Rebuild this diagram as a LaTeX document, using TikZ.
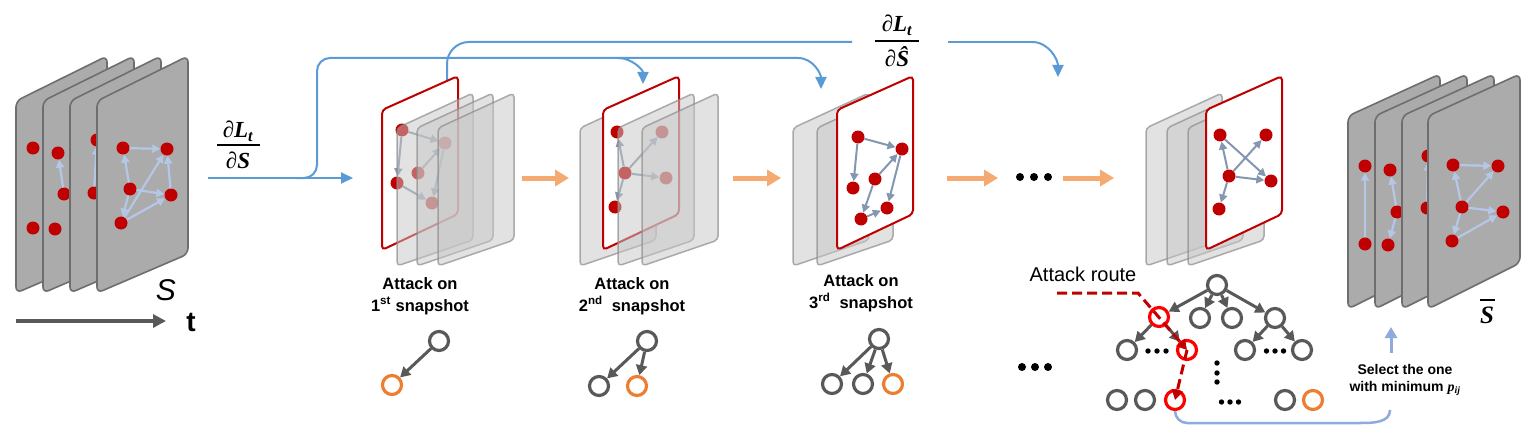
\documentclass[tikz,border=0pt]{standalone}
\usepackage{fontspec}
\setmainfont{Liberation Sans}
\newfontfamily\serifbi{Liberation Serif}
\usetikzlibrary{arrows.meta}

\definecolor{dotred}{HTML}{C00000}
\definecolor{cardgray}{HTML}{ABABAB}
\definecolor{carddraw}{HTML}{6E6E6E}
\definecolor{lblue}{HTML}{B4C7E7}
\definecolor{slate}{HTML}{8497B0}
\definecolor{flowblue}{HTML}{5B9BD5}
\definecolor{orangearr}{HTML}{F4AA70}
\definecolor{treegray}{HTML}{595959}
\definecolor{treeorange}{HTML}{ED7D31}
\definecolor{brightred}{HTML}{FF0000}
\definecolor{selblue}{HTML}{8FAADC}

\newcommand\mycard[7]{\path[#1] (#2,#7) -- (#2,#4) -- ({#2+#3},#5) -- ({#2+#3},#6) -- cycle;}
\newcommand\myScard[1]{\mycard{scard}{#1}{91}{101}{56}{254}{293}}
\newcommand\myBcard[1]{\mycard{scard}{#1}{92}{116}{74}{263}{309}}
\newcommand\myRcard[1]{\mycard{rcard}{#1}{76}{110}{76}{214}{250}}
\newcommand\myGcard[1]{\mycard{gcard}{#1}{76}{128}{93}{240}{266}}
\newcommand\myhdots[4]{\foreach \i in {-1,0,1} {\fill[black] ({#1+#3*\i},#2) circle (#4);}}

\tikzset{
  scard/.style={fill=cardgray, draw=carddraw, line width=1.6pt, rounded corners=6pt},
  rcard/.style={fill=white, draw=dotred, line width=2pt, rounded corners=4pt},
  gcard/.style={fill=black!22, fill opacity=0.5, draw=black!45, draw opacity=0.7, line width=1.5pt, rounded corners=4pt},
  rdot/.style={circle, fill=dotred, inner sep=0pt, minimum size=13pt},
  larr/.style={draw=lblue, line width=2.2pt, -{Triangle[length=8pt,width=8pt]}},
  sarr/.style={draw=slate, line width=2pt, -{Triangle[length=8pt,width=8pt]}},
  flowline/.style={draw=flowblue, line width=2pt},
  flow/.style={draw=flowblue, line width=2pt, -{Triangle[length=12pt,width=11pt]}},
  oarr/.style={draw=orangearr, line width=5pt, -{Triangle[length=14pt,width=16pt]}},
  lab/.style={font=\bfseries\fontsize{16.5}{22}\selectfont, align=center, inner sep=0pt},
  fnum/.style={font=\serifbi\bfseries\itshape\fontsize{23}{23}\selectfont, inner sep=0pt},
  fbar/.style={draw=black, line width=1.5pt},
  tn/.style={circle, draw=treegray, line width=3.2pt, minimum size=19pt, inner sep=0pt},
  tno/.style={tn, draw=treeorange},
  tnr/.style={tn, draw=brightred},
  tarr/.style={draw=treegray, line width=3pt, -{Triangle[length=10pt,width=11pt]}},
  route/.style={draw=dotred, line width=3pt, dash pattern=on 10pt off 5pt, -{Triangle[length=10pt,width=11pt]}},
  selline/.style={draw=selblue, line width=2.5pt},
  selarr/.style={draw=selblue, line width=3pt, -{Triangle[length=11pt,width=12pt]}},
}

\begin{document}
\begin{tikzpicture}[x=1pt,y=-1pt]
\useasboundingbox[fill=white] (0,0) rectangle (1538,433);

% ---------------- blue gradient flows (drawn first) ----------------
\coordinate (fa) at (208,178);
\coordinate (fb) at (353,178);
\coordinate (br0) at (296,178);
\coordinate (brc) at (317,58);
\coordinate (br1) at (798,58);
\coordinate (br2) at (618,58);
\coordinate (tip2) at (643,84);
\coordinate (tip3) at (821,89);
\coordinate (up0) at (447,82);
\coordinate (gapl) at (852,42);
\coordinate (gapr) at (948,42);
\coordinate (up1) at (1032,42);
\coordinate (tip4) at (1058,77);
\draw[flow] (fa) -- (fb);
\draw[flowline, rounded corners=13pt] (br0) -| (brc) -- (br1);
\draw[flow] (br1) to[out=0,in=90] (tip3);
\draw[flow] (br2) to[out=0,in=90] (tip2);
\draw[flowline, rounded corners=22pt] (up0) |- (gapl);
\draw[flowline] (gapr) -- (up1);
\draw[flow] (up1) to[out=0,in=90] (tip4);

% fraction dL/dS
\node[fnum] (dSn) at (238,131) {∂L\textsubscript{t}};
\node[fnum] (dSd) at (238,160) {∂S};
\coordinate (dSbl) at (217,145);
\coordinate (dSbr) at (260,145);
\draw[fbar] (dSbl) -- (dSbr);
% fraction dL/dS hat
\node[fnum] (dHn) at (897,25) {∂L\textsubscript{t}};
\node[fnum] (dHd) at (897,57) {∂Ŝ};
\coordinate (dHbl) at (875,41);
\coordinate (dHbr) at (919,41);
\draw[fbar] (dHbl) -- (dHbr);

% ---------------- left stack S ----------------
\myScard{16}
\node[rdot] (l1a) at (33,148) {};
\node[rdot] (l1b) at (33,228) {};
\myScard{43}
\node[rdot] (l2a) at (58,153) {};
\node[rdot] (l2b) at (64,194) {};
\node[rdot] (l2c) at (55,229) {};
\draw[larr] (l2b) -- (l2a);
\myScard{70}
\node[rdot] (l3a) at (97,140) {};
\node[rdot] (l3b) at (94,193) {};
\draw[larr] (l3b) -- (l3a);
\myScard{97}
\node[rdot] (l4a) at (123,148) {};
\node[rdot] (l4b) at (167,149) {};
\node[rdot] (l4c) at (130,189) {};
\node[rdot] (l4d) at (171,195) {};
\node[rdot] (l4e) at (121,223) {};
\draw[larr] (l4a) -- (l4b);
\draw[larr] (l4c) -- (l4a);
\draw[larr] (l4e) -- (l4b);
\draw[larr] (l4d) -- (l4b);
\draw[larr] (l4c) -- (l4d);
\draw[larr] (l4c) -- (l4e);
\draw[larr] (l4e) -- (l4d);
\node[font=\itshape\fontsize{30}{30}\selectfont, inner sep=0pt] (Slab) at (166,290) {S};
\coordinate (ta) at (16,321);
\coordinate (tb) at (166,321);
\draw[draw=treegray, line width=4pt, -{Triangle[length=13pt,width=13pt]}] (ta) -- (tb);
\node[font=\bfseries\fontsize{28}{28}\selectfont, inner sep=0pt] (tlab) at (191,322) {t};

% ---------------- stack 1 ----------------
\myRcard{382}
\node[rdot] (s1a) at (402,130) {};
\node[rdot] (s1b) at (397,183) {};
\node[rdot] (s1c) at (418,173) {};
\node[rdot] (s1d) at (445,143) {};
\node[rdot] (s1e) at (432,203) {};
\draw[sarr] (s1a) -- (s1b);
\draw[sarr] (s1a) -- (s1d);
\draw[sarr] (s1c) -- (s1d);
\draw[sarr] (s1d) -- (s1e);
\draw[sarr] (s1b) -- (s1e);
\myGcard{397}
\myGcard{417}
\myGcard{438}
\node[lab] (lab1) at (420,296) {Attack on\\1\textsuperscript{st} snapshot};

% ---------------- stack 2 ----------------
\myGcard{580}
\myRcard{603}
\node[rdot] (s2a) at (617,132) {};
\node[rdot] (s2b) at (625,173) {};
\node[rdot] (s2c) at (615,207) {};
\node[rdot] (s2d) at (662,132) {};
\node[rdot] (s2e) at (666,178) {};
\draw[sarr] (s2b) -- (s2a);
\draw[sarr] (s2b) -- (s2d);
\draw[sarr] (s2b) -- (s2e);
\draw[sarr] (s2b) -- (s2c);
\myGcard{618}
\myGcard{642}
\node[lab] (lab2) at (632,296) {Attack on\\2\textsuperscript{nd}\ \ snapshot};

% ---------------- stack 3 ----------------
\myGcard{793}
\myGcard{817}
\myRcard{837}
\node[rdot] (s3a) at (858,137) {};
\node[rdot] (s3b) at (902,149) {};
\node[rdot] (s3c) at (853,188) {};
\node[rdot] (s3d) at (875,179) {};
\node[rdot] (s3e) at (887,208) {};
\node[rdot] (s3f) at (861,219) {};
\draw[sarr] (s3a) -- (s3b);
\draw[sarr] (s3a) -- (s3c);
\draw[sarr] (s3d) -- (s3b);
\draw[sarr] (s3b) -- (s3e);
\draw[sarr] (s3d) -- (s3f);
\draw[sarr] (s3f) -- (s3e);
\node[lab] (lab3) at (861,293) {Attack on\\3\textsuperscript{rd}\ \ snapshot};

% ---------------- stack 4 ----------------
\myGcard{1146}
\myGcard{1167}
\myGcard{1188}
\myRcard{1206}
\node[rdot] (s4a) at (1220,135) {};
\node[rdot] (s4b) at (1266,135) {};
\node[rdot] (s4c) at (1229,176) {};
\node[rdot] (s4d) at (1271,181) {};
\node[rdot] (s4e) at (1219,209) {};
\draw[sarr] (s4c) -- (s4a);
\draw[sarr] (s4c) -- (s4b);
\draw[sarr] (s4a) -- (s4d);
\draw[sarr] (s4c) -- (s4d);
\draw[sarr] (s4c) -- (s4e);

% ---------------- orange arrows and dots ----------------
\coordinate (o1a) at (522,178); \coordinate (o1b) at (569,178);
\coordinate (o2a) at (733,178); \coordinate (o2b) at (781,178);
\coordinate (o3a) at (947,178); \coordinate (o3b) at (998,178);
\coordinate (o4a) at (1063,178); \coordinate (o4b) at (1114,178);
\draw[oarr] (o1a) -- (o1b);
\draw[oarr] (o2a) -- (o2b);
\draw[oarr] (o3a) -- (o3b);
\draw[oarr] (o4a) -- (o4b);
\myhdots{1034}{177}{14}{4}
\myhdots{1035}{367}{13}{4}

% ---------------- right stack S bar ----------------
\myBcard{1348}
\node[rdot] (r1a) at (1365,166) {};
\node[rdot] (r1b) at (1365,244) {};
\draw[larr] (r1b) -- (r1a);
\myBcard{1375}
\node[rdot] (r2a) at (1390,170) {};
\node[rdot] (r2b) at (1397,212) {};
\node[rdot] (r2c) at (1388,245) {};
\draw[larr] (r2b) -- (r2a);
\draw[larr] (r2b) -- (r2c);
\myBcard{1402}
\node[rdot] (r3a) at (1428,156) {};
\node[rdot] (r3b) at (1427,208) {};
\draw[larr] (r3b) -- (r3a);
\myBcard{1428}
\node[rdot] (r4a) at (1453,165) {};
\node[rdot] (r4b) at (1498,166) {};
\node[rdot] (r4c) at (1462,207) {};
\node[rdot] (r4d) at (1503,212) {};
\node[rdot] (r4e) at (1452,241) {};
\draw[larr] (r4a) -- (r4b);
\draw[larr] (r4c) -- (r4a);
\draw[larr] (r4c) -- (r4b);
\draw[larr] (r4c) -- (r4d);
\draw[larr] (r4c) -- (r4e);
\draw[larr] (r4e) -- (r4d);
\node[fnum, font=\serifbi\bfseries\itshape\fontsize{25}{25}\selectfont] (Sbar) at (1487,315) {S};
\coordinate (sbl) at (1480,300);
\coordinate (sbr) at (1495,300);
\draw[fbar] (sbl) -- (sbr);

% ---------------- small trees ----------------
\node[tn] (t1r) at (439,341) {};
\node[tno] (t1a) at (392,385) {};
\draw[tarr] (t1r) -- (t1a);
\node[tn] (t2r) at (647,341) {};
\node[tn] (t2a) at (599,386) {};
\node[tno] (t2b) at (637,386) {};
\draw[tarr] (t2r) -- (t2a);
\draw[tarr] (t2r) -- (t2b);
\node[tn] (t3r) at (879,339) {};
\node[tn] (t3a) at (832,384) {};
\node[tn] (t3b) at (863,384) {};
\node[tno] (t3c) at (893,384) {};
\draw[tarr] (t3r) -- (t3a);
\draw[tarr] (t3r) -- (t3b);
\draw[tarr] (t3r) -- (t3c);

% ---------------- big tree ----------------
\node[tn] (bt0) at (1217,285) {};
\node[tnr] (bt1) at (1159,317) {};
\node[tn] (bt2) at (1200,318) {};
\node[tn] (bt3) at (1232,318) {};
\node[tn] (bt4) at (1275,318) {};
\node[tn] (bt5) at (1127,350) {};
\node[tnr] (bt6) at (1187,350) {};
\node[tn] (bt7) at (1245,350) {};
\node[tn] (bt8) at (1302,350) {};
\node[tn] (bt9) at (1117,400) {};
\node[tn] (bt10) at (1145,400) {};
\node[tnr] (bt11) at (1175,400) {};
\node[tn] (bt12) at (1285,400) {};
\node[tno] (bt13) at (1313,400) {};
\draw[tarr] (bt0) -- (bt1);
\draw[tarr] (bt0) -- (bt2);
\draw[tarr] (bt0) -- (bt3);
\draw[tarr] (bt0) -- (bt4);
\draw[tarr] (bt1) -- (bt5);
\draw[tarr] (bt1) -- (bt6);
\draw[tarr] (bt4) -- (bt7);
\draw[tarr] (bt4) -- (bt8);
\myhdots{1157}{351}{9}{2.7}
\myhdots{1275}{351}{8.5}{2.7}
\myhdots{1230}{402}{8.5}{2.7}
\foreach \j in {363,373,382} {\fill[black] (1217,\j) circle (2.7);}

% attack route
\node[font=\fontsize{20}{20}\selectfont, inner sep=0pt] (arlab) at (1083,274) {Attack route};
\coordinate (rt0) at (1057,293);
\coordinate (rt1) at (1138,293);
\draw[route] (rt0) -- (rt1) -- (bt6.center);
\draw[route] (bt6.center) -- (bt11.center);

% selection
\node[font=\bfseries\fontsize{14}{16.5}\selectfont, align=center, inner sep=0pt] (sel) at (1405,380) {Select the one\\with minimum {\serifbi\itshape p\textsubscript{ij}}};
\coordinate (sela) at (1391,353);
\coordinate (selb) at (1391,327);
\draw[selarr] (sela) -- (selb);
\coordinate (selend) at (1390,410);
\coordinate (selmid) at (1360,423);
\draw[selline, rounded corners=12pt] (bt11.south) |- (selmid);
\draw[selline] (selmid) to[out=0,in=-90] (selend);
\end{tikzpicture}
\end{document}
